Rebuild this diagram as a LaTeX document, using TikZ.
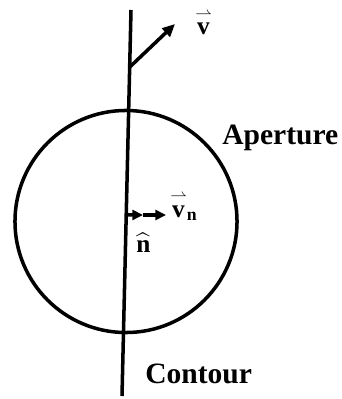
\documentclass[tikz,border=0pt]{standalone}
\usepackage{amsmath}
\usepackage{fontspec}
\setmainfont{Liberation Serif}
\usetikzlibrary{positioning,calc}
\usetikzlibrary{arrows.meta}
\tikzset{
  rod/.style={draw=black,line width=2.5pt},
  vec/.style={draw=black,line width=2.5pt,-{Triangle[length=9pt,width=8pt]}},
  small vec/.style={draw=black,line width=2.5pt,-{Triangle[length=7.5pt,width=7pt]}},
  disk/.style={circle,draw=black,line width=2.5pt,minimum size=5.55cm,inner sep=0pt},
  lbl/.style={inner sep=0pt,anchor=base west,font=\fontsize{21}{23}\selectfont\bfseries},
  sym/.style={inner sep=0pt,anchor=base west,font=\fontsize{18}{20}\selectfont\bfseries},
}

\begin{document}
\begin{tikzpicture}[x=0.025cm,y=-0.025cm]
\useasboundingbox (0,0) rectangle (341,399);
\coordinate (top) at (131,10);
\coordinate (bot) at (122,396);
\coordinate (ctr) at (126,221.5);
\coordinate (foot) at ($(top)!0.148!(bot)$);
\coordinate (nfoot) at ($(top)!0.531!(bot)$);
\coordinate (vtip) at (175,24);
\coordinate (nmid) at (143,215);
\coordinate (ntip) at (166,215);
\node[disk] (aper) at (ctr) {};
\draw[rod] (top) -- (bot);
\draw[vec] (foot) -- (vtip);
\draw[small vec] (nfoot) -- (nmid);
\draw[small vec] (nmid) -- (ntip);
\node[sym] (lblv) at (195,35) {$\overset{\rightharpoonup}{\textbf{v}}$};
\node[sym] (lblvn) at (170,217) {$\overset{\rightharpoonup}{\textbf{v}}_{\textbf{n}}$};
\node[sym] (lbln) at (136,252) {$\widehat{\textbf{n}}$};
\node[lbl] (aperture) at (222,145) {Aperture};
\node[lbl] (contour) at (145,383) {Contour};
\end{tikzpicture}
\end{document}
